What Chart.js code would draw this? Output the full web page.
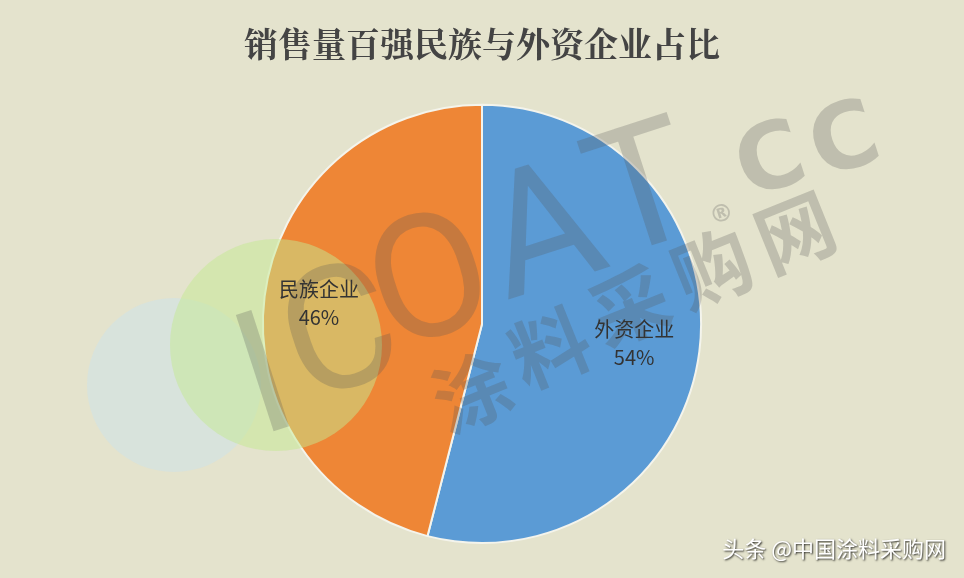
<!DOCTYPE html>
<html>
<head>
<meta charset="utf-8">
<script src="https://cdn.jsdelivr.net/npm/chart.js@4.4.1/dist/chart.umd.min.js"></script>
<style>
  html, body { margin: 0; padding: 0; background: #e4e3cd; }
  #wrap { width: 964px; height: 578px; position: relative; }
</style>
</head>
<body>
<div id="wrap"><canvas id="myChart" width="964" height="578"></canvas></div>
<script>
var labels = ['外资企业', '民族企业'];
var shares = [54, 46];
var sliceColors = ['#5b9bd5', '#ee8636'];

// draw one rotated glyph of the watermark
function glyph(ctx, ch, x, y, font, deg) {
  ctx.save();
  ctx.translate(x, y);
  ctx.rotate(deg * Math.PI / 180);
  ctx.font = font;
  ctx.textAlign = 'center';
  ctx.textBaseline = 'middle';
  ctx.fillText(ch, 0, 0);
  ctx.restore();
}

const decoPlugin = {
  id: 'deco',
  beforeDraw(chart) {
    const ctx = chart.ctx;
    ctx.save();
    ctx.fillStyle = '#e4e3cd';
    ctx.fillRect(0, 0, chart.width, chart.height);
    ctx.globalAlpha = 0.6;
    ctx.fillStyle = '#d0e3e6';
    ctx.beginPath();
    ctx.arc(174, 385, 87, 0, Math.PI * 2);
    ctx.fill();
    ctx.restore();
  },
  afterDatasetsDraw(chart) {
    const ctx = chart.ctx;
    ctx.save();
    ctx.globalAlpha = 0.5;
    ctx.fillStyle = '#c4ea92';
    ctx.beginPath();
    ctx.arc(276, 345, 106, 0, Math.PI * 2);
    ctx.fill();
    ctx.restore();

    // watermark
    ctx.save();
    ctx.globalAlpha = 0.26;
    ctx.fillStyle = '#555';
    var thin = '400 172px Roboto';
    glyph(ctx, 'I', 268, 388, thin, -18);
    glyph(ctx, 'C', 343, 344, thin, -18);
    glyph(ctx, 'O', 433, 292, thin, -18);
    glyph(ctx, 'A', 546, 242, thin, -18);
    glyph(ctx, 'T', 646, 202, thin, -18);
    glyph(ctx, '®', 722, 215, 'bold 24px "DejaVu Sans"', -18);
    glyph(ctx, 'C', 772, 165, 'bold 92px "DejaVu Sans"', -18);
    glyph(ctx, 'C', 846, 145, 'bold 92px "DejaVu Sans"', -18);
    var cjk = 'bold 78px "Noto Sans CJK SC"';
    glyph(ctx, '涂', 472, 392, cjk, -22);
    glyph(ctx, '料', 550, 348, cjk, -22);
    glyph(ctx, '采', 630, 306, cjk, -22);
    glyph(ctx, '购', 712, 268, cjk, -22);
    glyph(ctx, '网', 795, 232, cjk, -22);
    ctx.restore();

    // slice labels
    const meta = chart.getDatasetMeta(0);
    ctx.save();
    ctx.fillStyle = '#333';
    ctx.textAlign = 'center';
    ctx.textBaseline = 'middle';
    meta.data.forEach(function (arc, i) {
      const p = arc.getProps(['x', 'y', 'startAngle', 'endAngle', 'outerRadius'], true);
      const mid = (p.startAngle + p.endAngle) / 2;
      const r = p.outerRadius * (i === 0 ? 0.7 : 0.75);
      const x = p.x + Math.cos(mid) * r;
      const y = p.y + Math.sin(mid) * r;
      ctx.font = '20px "Noto Sans CJK SC"';
      ctx.fillText(labels[i], x, y - 14);
      ctx.fillText(shares[i] + '%', x, y + 14);
    });
    ctx.restore();

    // footer credit
    ctx.save();
    ctx.font = '22px "Noto Sans CJK SC"';
    ctx.textAlign = 'right';
    ctx.textBaseline = 'middle';
    ctx.fillStyle = '#ffffff';
    ctx.shadowColor = 'rgba(0,0,0,0.8)';
    ctx.shadowOffsetX = 1;
    ctx.shadowOffsetY = 1;
    ctx.shadowBlur = 2;
    ctx.fillText('头条 @中国涂料采购网', 946, 549);
    ctx.restore();
  }
};

const data = {
  labels: labels,
  datasets: [{
    data: shares,
    backgroundColor: sliceColors,
    borderColor: '#f4f4ec',
    borderWidth: 2
  }]
};

const config = {
  type: 'pie',
  data: data,
  options: {
    responsive: false,
    animation: false,
    layout: { padding: { top: 0, bottom: 34, left: 0, right: 0 } },
    plugins: {
      legend: { display: false },
      tooltip: { enabled: false },
      title: {
        display: true,
        text: '销售量百强民族与外资企业占比',
        color: '#444',
        font: { family: '"Noto Serif CJK SC", "Noto Sans CJK SC"', size: 34, weight: 'bold', lineHeight: 1.2 },
        padding: { top: 24, bottom: 39 }
      }
    }
  },
  plugins: [decoPlugin]
};

const myChart = new Chart(document.getElementById('myChart'), config);
</script>
</body>
</html>
